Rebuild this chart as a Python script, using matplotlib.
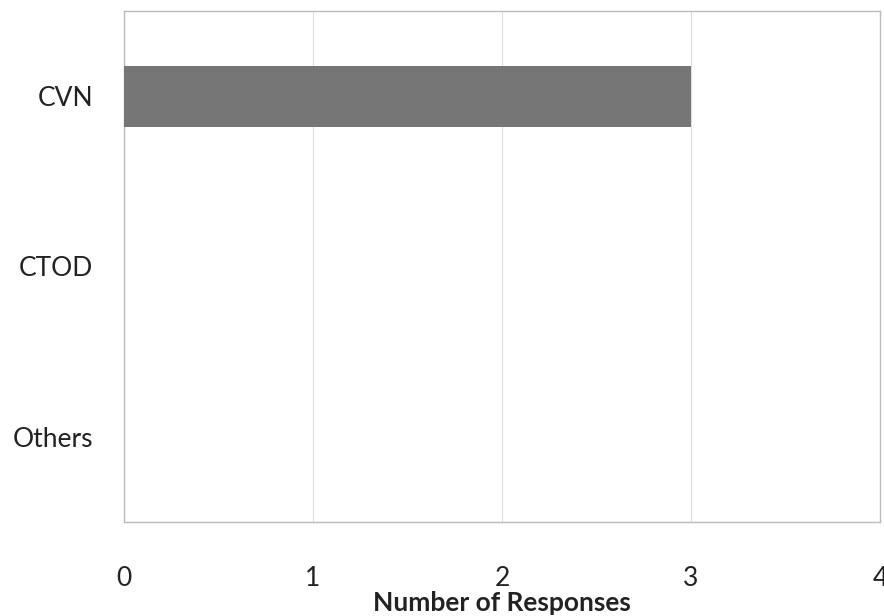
import matplotlib
matplotlib.use("Agg")
import matplotlib.pyplot as plt

categories = ["CVN", "CTOD", "Others"]
responses = [3, 0, 0]
x_ticks = [0, 1, 2, 3, 4]

plt.rcParams['font.family'] = ['Lato', 'DejaVu Sans']

fig = plt.figure(figsize=(8.84, 6.16), dpi=100)
ax = fig.add_axes([124 / 884, 1 - 522 / 616, (880 - 124) / 884, (522 - 11) / 616])

ypos = list(range(len(categories)))
ax.barh(ypos, responses, height=0.36, color="#767676", linewidth=0, zorder=3)

ax.set_xlim(0, 4)
ax.set_ylim(len(categories) - 0.5, -0.5)
ax.set_yticks(ypos)
ax.set_yticklabels(categories, fontsize=19, color="#222222")
ax.set_xticks(x_ticks)
ax.set_xticklabels([str(t) for t in x_ticks], fontsize=19, color="#222222")
ax.tick_params(axis="x", length=0, pad=32)
ax.tick_params(axis="y", length=0, pad=22)

ax.grid(axis="x", color="#dddddd", linewidth=0.8, zorder=0)
for s in ax.spines.values():
    s.set_color("#bbbbbb")
    s.set_linewidth(1.0)

ax.set_xlabel("Number of Responses", fontsize=19, fontweight="bold", color="#222222", labelpad=0)

fig.savefig("out.png", dpi=100, facecolor="white")
